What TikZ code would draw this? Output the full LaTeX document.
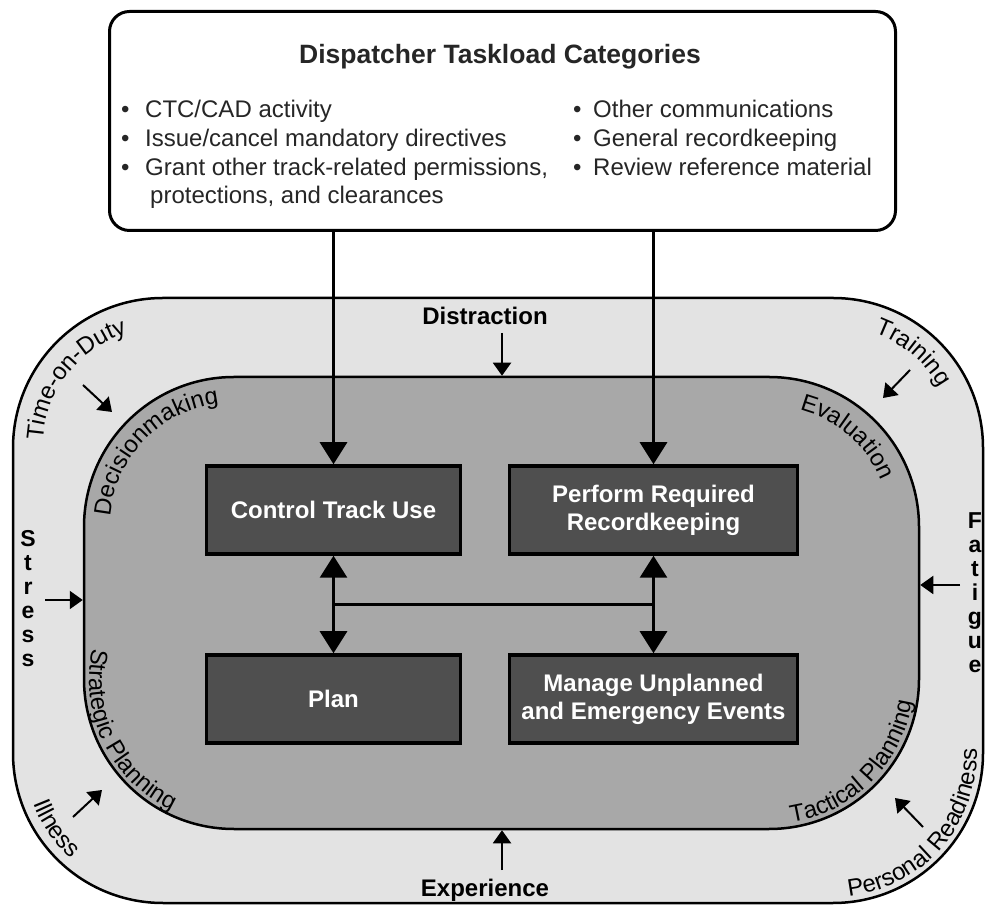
\documentclass[tikz,border=0pt]{standalone}
\usepackage{fontspec}
\setmainfont{Liberation Sans}
\usetikzlibrary{arrows.meta}
\usetikzlibrary{calc}
\usetikzlibrary{decorations.text}

\definecolor{ringgray}{gray}{0.89}
\definecolor{coregray}{gray}{0.66}
\definecolor{taskgray}{gray}{0.31}

\newcommand{\arclabel}{\fontsize{24}{28}\selectfont}

\begin{document}
\begin{tikzpicture}[
        x=1pt, y=1pt,
        font=\fontsize{24}{28.7}\selectfont,
        task/.style={draw, line width=3.5pt, fill=taskgray, text=white, align=center,
            font=\bfseries\fontsize{24}{28}\selectfont, minimum height=88pt, inner sep=0pt},
        bigarrow/.style={line width=3pt, -{Triangle[width=27pt, length=22pt]}},
        twoway/.style={line width=3pt, {Triangle[width=27pt, length=22pt]}-{Triangle[width=27pt, length=22pt]}},
        nudge/.style={line width=2pt, -{Triangle[width=18pt, length=13pt]}},
        item/.style={anchor=base west, inner sep=0pt, text=black!85},
        influence/.style={font=\bfseries\fontsize{24}{28}\selectfont, inner sep=0pt},
        letters/.style={font=\bfseries\fontsize{23}{24}\selectfont, align=center, anchor=north, inner sep=0pt},
        bend text/.style={decorate, decoration={text along path, text align=center, text={|\arclabel|#1}}}
    ]
        \path[use as bounding box, fill=white] (0,0) rectangle (987,910);

        % --- Anillo exterior y zona central ---
        \node[draw, line width=2.5pt, fill=ringgray, rounded corners=150pt,
            minimum width=970pt, minimum height=605pt] (ring) at (498,309.5) {};
        \node[draw, line width=2.5pt, fill=coregray, rounded corners=150pt,
            minimum width=835pt, minimum height=452pt] (core) at (501.5,307) {};

        % --- Caja de categorias ---
        \node[draw, line width=3pt, fill=white, rounded corners=20pt,
            minimum width=786pt, minimum height=219pt] (cats) at (502.5,789) {};
        \node[font=\bfseries\fontsize{26.5}{30}\selectfont, anchor=base, text=black!85] (title) at (500,846) {Dispatcher Taskload Categories};

        \node[item] (l1) at (121,792) {\makebox[24pt][l]{•}CTC/CAD activity};
        \node[item] (l2) at (121,763) {\makebox[24pt][l]{•}Issue/cancel mandatory directives};
        \node[item] (l3) at (121,734) {\makebox[24pt][l]{•}Grant other track-related permissions,};
        \node[item] (l4) at (150,706) {protections, and clearances};
        \node[item] (r1) at (573,792) {\makebox[20pt][l]{•}Other communications};
        \node[item] (r2) at (573,763) {\makebox[20pt][l]{•}General recordkeeping};
        \node[item] (r3) at (573,734) {\makebox[20pt][l]{•}Review reference material};

        % --- Tareas ---
        \node[task, minimum width=254pt] (ctrl) at (333.5,400) {Control Track Use};
        \node[task, minimum width=288pt] (perf) at (653.5,400) {Perform Required\\Recordkeeping};
        \node[task, minimum width=254pt] (plan) at (333.5,211) {Plan};
        \node[task, minimum width=288pt] (mgmt) at (653.5,211) {Manage Unplanned\\and Emergency Events};

        \draw[bigarrow] (ctrl.north |- cats.south) -- (ctrl.north);
        \draw[bigarrow] (perf.north |- cats.south) -- (perf.north);
        \draw[twoway] (ctrl) -- (plan);
        \draw[twoway] (perf) -- (mgmt);
        \draw[line width=2.5pt] ($(ctrl.south)!0.5!(plan.north)$) -- ($(perf.south)!0.5!(mgmt.north)$);

        % --- Factores externos ---
        \node[influence, anchor=base] (distr) at (485,585) {Distraction};
        \node[influence, anchor=base] (exper) at (485,14) {Experience};
        \node[letters] (stress) at (28,380) {S\\t\\r\\e\\s\\s};
        \node[letters] (fatigue) at (975,398) {F\\a\\t\\i\\g\\u\\e};

        \coordinate (distrtail) at (502,577);
        \coordinate (expertail) at (502,40);
        \coordinate (stresstail) at (45,310);
        \coordinate (fatiguetail) at (960,325);
        \draw[nudge] (distrtail) -- (distrtail |- core.north);
        \draw[nudge] (expertail) -- (expertail |- core.south);
        \draw[nudge] (stresstail) -- (stresstail -| core.west);
        \draw[nudge] (fatiguetail) -- (fatiguetail -| core.east);

        % flechas diagonales
        \coordinate (dutytail) at (83,525);   \coordinate (dutytip) at (112,498);
        \coordinate (traintail) at (910,540); \coordinate (traintip) at (883,512);
        \coordinate (illtail) at (73,93);     \coordinate (illtip) at (102,120);
        \coordinate (readytail) at (923,83);  \coordinate (readytip) at (895,112);
        \draw[nudge] (dutytail) -- (dutytip);
        \draw[nudge] (traintail) -- (traintip);
        \draw[nudge] (illtail) -- (illtip);
        \draw[nudge] (readytail) -- (readytip);

        % --- Textos curvos ---
        \path[bend text=Time-on-Duty] ($(162,463)+(192:119)$) arc[start angle=192, end angle=92, radius=119];
        \path[bend text=Training] ($(834,463)+(100:121)$) arc[start angle=100, end angle=0, radius=121];
        \path[bend text=Illness] ($(162,156)+(165:138)$) arc[start angle=165, end angle=265, radius=138];
        \path[bend text=Personal Readiness] ($(834,156)+(269:143)$) arc[start angle=269, end angle=369, radius=143];

        \path[bend text=Decisionmaking] ($(233,384)+(186:123)$) arc[start angle=186, end angle=86, radius=123];
        \path[bend text=Evaluation] ($(770,384)+(99:120)$) arc[start angle=99, end angle=-1, radius=120];
        \path[bend text=Strategic Planning] ($(233,230)+(156:144)$) arc[start angle=156, end angle=256, radius=144];
        \path[bend text=Tactical Planning] ($(770,230)+(265:144)$) arc[start angle=265, end angle=365, radius=144];

    \end{tikzpicture}
\end{document}
